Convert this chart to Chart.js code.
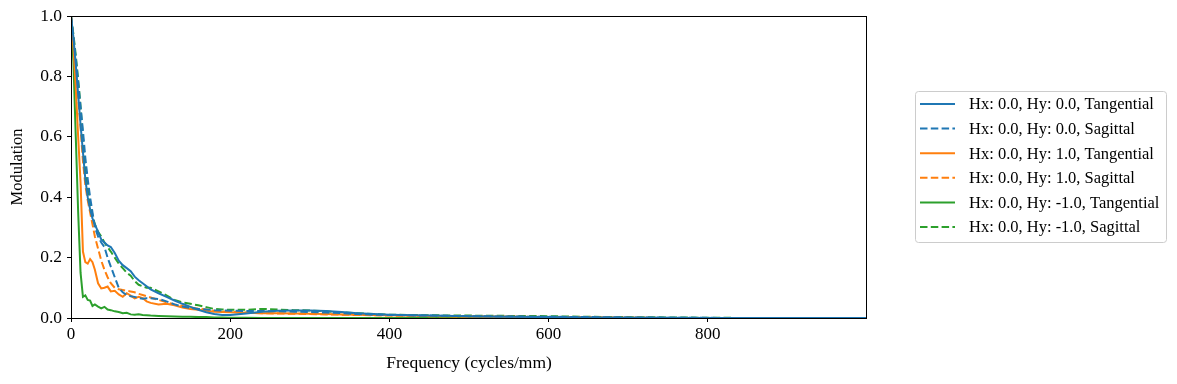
<!DOCTYPE html>
<html>
<head>
<meta charset="utf-8">
<script src="https://cdn.jsdelivr.net/npm/chart.js@4/dist/chart.umd.min.js"></script>
<style>
  html, body { margin: 0; padding: 0; background: #fff; }
  canvas { display: block; }
</style>
</head>
<body>
<canvas id="mtfChart" width="1177" height="384"></canvas>
<script>
// spatial frequency samples (cycles/mm)
const freq = [0, 3, 6, 9, 12, 15, 18, 21, 24, 27, 30, 34, 38, 42, 46, 50, 55, 60, 65, 70, 75, 80, 85, 90, 95, 100,
  110, 120, 130, 140, 150, 160, 170, 180, 190, 200, 220, 240, 260, 280, 300, 320, 340, 360, 380, 400,
  450, 500, 550, 600, 650, 700, 750, 800, 850, 900, 950, 1000];

// modulation per field / orientation
const tanHy0 = [1.0, 0.93, 0.84, 0.74, 0.64, 0.55, 0.46, 0.40, 0.36, 0.33, 0.31, 0.285, 0.26, 0.25, 0.24, 0.235, 0.215, 0.19, 0.175, 0.165, 0.155, 0.137, 0.125, 0.115, 0.105, 0.095,
  0.082, 0.07, 0.058, 0.047, 0.037, 0.027, 0.019, 0.013, 0.01, 0.01, 0.015, 0.021, 0.024, 0.025, 0.025, 0.023, 0.02, 0.016, 0.013, 0.011,
  0.008, 0.006, 0.004, 0.003, 0.002, 0.001, 0.0005, 0, 0, 0, 0, 0];
const sagHy0 = [1.0, 0.93, 0.86, 0.78, 0.70, 0.62, 0.53, 0.46, 0.40, 0.35, 0.30, 0.27, 0.25, 0.235, 0.20, 0.17, 0.135, 0.10, 0.085, 0.076, 0.072, 0.07, 0.066, 0.064, 0.065, 0.065,
  0.063, 0.055, 0.045, 0.038, 0.033, 0.03, 0.028, 0.026, 0.025, 0.024, 0.023, 0.023, 0.022, 0.021, 0.02, 0.018, 0.016, 0.013, 0.011, 0.01,
  0.008, 0.006, 0.005, 0.004, 0.003, 0.002, 0.001, 0.0005, 0, 0, 0, 0];
const tanHy1 = [1.0, 0.90, 0.76, 0.60, 0.45, 0.22, 0.185, 0.18, 0.195, 0.185, 0.16, 0.115, 0.098, 0.10, 0.104, 0.088, 0.09, 0.078, 0.07, 0.082, 0.074, 0.065, 0.07, 0.066, 0.055, 0.05,
  0.045, 0.047, 0.042, 0.035, 0.03, 0.027, 0.024, 0.021, 0.02, 0.019, 0.017, 0.016, 0.016, 0.015, 0.014, 0.013, 0.012, 0.011, 0.01, 0.009,
  0.007, 0.005, 0.004, 0.003, 0.002, 0.001, 0, 0, 0, 0, 0, 0];
const sagHy1 = [1.0, 0.92, 0.83, 0.73, 0.63, 0.52, 0.44, 0.39, 0.35, 0.31, 0.27, 0.23, 0.19, 0.16, 0.135, 0.115, 0.10, 0.095, 0.093, 0.09, 0.088, 0.085, 0.08, 0.076, 0.072, 0.068,
  0.06, 0.052, 0.045, 0.04, 0.035, 0.031, 0.028, 0.024, 0.022, 0.02, 0.018, 0.016, 0.015, 0.014, 0.013, 0.012, 0.011, 0.01, 0.009, 0.008,
  0.006, 0.005, 0.004, 0.003, 0.002, 0.001, 0, 0, 0, 0, 0, 0];
const tanHyM1 = [1.0, 0.85, 0.60, 0.35, 0.15, 0.07, 0.075, 0.06, 0.058, 0.04, 0.045, 0.038, 0.032, 0.037, 0.028, 0.026, 0.022, 0.02, 0.016, 0.017, 0.012, 0.011, 0.012, 0.01, 0.009, 0.008,
  0.007, 0.006, 0.005, 0.004, 0.004, 0.003, 0.003, 0.002, 0.002, 0.001, 0.001, 0, 0, 0, 0, 0, 0, 0, 0, 0,
  0, 0, 0, 0, 0, 0, 0, 0, 0, 0, 0, 0];
const sagHyM1 = [1.0, 0.94, 0.87, 0.79, 0.70, 0.60, 0.50, 0.43, 0.38, 0.34, 0.31, 0.285, 0.27, 0.25, 0.235, 0.22, 0.20, 0.18, 0.165, 0.15, 0.14, 0.122, 0.11, 0.105, 0.10, 0.10,
  0.088, 0.075, 0.06, 0.052, 0.047, 0.042, 0.036, 0.03, 0.028, 0.027, 0.027, 0.03, 0.028, 0.026, 0.025, 0.022, 0.019, 0.016, 0.013, 0.011,
  0.009, 0.008, 0.007, 0.006, 0.004, 0.003, 0.002, 0.001, 0, 0, 0, 0];

const seriesLabels = [
  'Hx: 0.0, Hy: 0.0, Tangential',
  'Hx: 0.0, Hy: 0.0, Sagittal',
  'Hx: 0.0, Hy: 1.0, Tangential',
  'Hx: 0.0, Hy: 1.0, Sagittal',
  'Hx: 0.0, Hy: -1.0, Tangential',
  'Hx: 0.0, Hy: -1.0, Sagittal'
];
const seriesValues = [tanHy0, sagHy0, tanHy1, sagHy1, tanHyM1, sagHyM1];
const seriesColors = ['#1f77b4', '#1f77b4', '#ff7f0e', '#ff7f0e', '#2ca02c', '#2ca02c'];
const seriesDashed = [false, true, false, true, false, true];

const xTicks = [0, 200, 400, 600, 800];
const yTicks = [0, 0.2, 0.4, 0.6, 0.8, 1.0];

const FONT = 'Liberation Serif';
const DASH = [7.5, 3.3];
const LW = 2;

// frame around the plot area + boxed legend on the right
const framePlugin = {
  id: 'frame',
  afterDraw(chart) {
    const ctx = chart.ctx;
    const a = chart.chartArea;
    ctx.save();
    ctx.strokeStyle = '#000';
    ctx.lineWidth = 1;
    ctx.strokeRect(Math.round(a.left) + 0.5, Math.round(a.top) + 0.5,
      Math.round(a.right - a.left) - 1, Math.round(a.bottom - a.top));

    // legend
    const bx = 915.5, by = 91.5, bw = 251, bh = 151;
    ctx.beginPath();
    ctx.roundRect(bx, by, bw, bh, 3);
    ctx.fillStyle = 'rgba(255,255,255,0.8)';
    ctx.fill();
    ctx.strokeStyle = '#cccccc';
    ctx.stroke();

    ctx.font = '16.5px "' + FONT + '"';
    ctx.textBaseline = 'middle';
    ctx.textAlign = 'left';
    seriesLabels.forEach((label, i) => {
      const y = 104 + i * 24.6;
      ctx.beginPath();
      ctx.strokeStyle = seriesColors[i];
      ctx.lineWidth = LW;
      ctx.setLineDash(seriesDashed[i] ? DASH : []);
      ctx.moveTo(920, y);
      ctx.lineTo(955, y);
      ctx.stroke();
      ctx.setLineDash([]);
      ctx.fillStyle = '#000';
      ctx.fillText(label, 969, y + 1);
    });
    ctx.restore();
  }
};

const ctx = document.getElementById('mtfChart').getContext('2d');
new Chart(ctx, {
  type: 'line',
  data: {
    datasets: seriesValues.map((vals, i) => ({
      label: seriesLabels[i],
      data: freq.map((f, j) => ({ x: f, y: vals[j] })),
      borderColor: seriesColors[i],
      borderWidth: LW,
      borderDash: seriesDashed[i] ? DASH : [],
      pointRadius: 0,
      tension: 0,
      fill: false
    }))
  },
  options: {
    responsive: false,
    animation: false,
    events: [],
    layout: { padding: { top: 16, right: 310, left: 0, bottom: 0 } },
    plugins: {
      legend: { display: false },
      tooltip: { enabled: false }
    },
    scales: {
      x: {
        type: 'linear',
        min: 0,
        max: 1000,
        afterBuildTicks: scale => { scale.ticks = xTicks.map(v => ({ value: v })); },
        afterFit: scale => { scale.height = 66; },
        grid: { display: true, drawOnChartArea: false, drawTicks: true, tickLength: 4, color: '#000' },
        border: { display: false },
        ticks: {
          color: '#000',
          padding: 2,
          maxRotation: 0,
          font: { family: FONT, size: 17 },
          callback: v => String(v)
        },
        title: {
          display: true,
          text: 'Frequency (cycles/mm)',
          color: '#000',
          font: { family: FONT, size: 17.5 },
          padding: { top: 0, bottom: 10 }
        }
      },
      y: {
        type: 'linear',
        min: 0,
        max: 1,
        afterBuildTicks: scale => { scale.ticks = yTicks.map(v => ({ value: v })); },
        afterFit: scale => { scale.width = 71; },
        grid: { display: true, drawOnChartArea: false, drawTicks: true, tickLength: 4, color: '#000' },
        border: { display: false },
        ticks: {
          color: '#000',
          padding: 5,
          font: { family: FONT, size: 17.5 },
          callback: v => v.toFixed(1)
        },
        title: {
          display: true,
          text: 'Modulation',
          color: '#000',
          font: { family: FONT, size: 16.5 },
          padding: { top: 8, bottom: 0 }
        }
      }
    }
  },
  plugins: [framePlugin]
});
</script>
</body>
</html>
